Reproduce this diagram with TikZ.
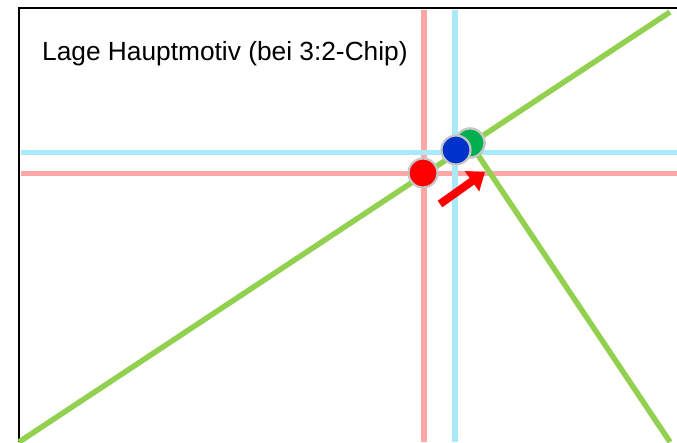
\documentclass[tikz,border=0pt]{standalone}
\usepackage{fontspec}
\setmainfont{Liberation Sans}
\usepackage{tikz}
\usetikzlibrary{arrows.meta}
\definecolor{guidered}{RGB}{255,166,166}
\definecolor{guideblue}{RGB}{170,234,248}
\definecolor{diaggreen}{RGB}{146,208,80}
\definecolor{dotred}{RGB}{255,0,0}
\definecolor{dotblue}{RGB}{0,51,204}
\definecolor{dotgreen}{RGB}{0,176,80}
\tikzset{
  guide/.style={line width=5.5pt},
  diag/.style={diaggreen,line width=5.5pt},
  dot/.style={circle,minimum size=29pt,inner sep=0pt,draw=gray!45,line width=2.2pt}
}

\begin{document}
\begin{tikzpicture}[x=1pt,y=-1pt]
\useasboundingbox (0,0) rectangle (677,442);
% ---- frame (only top and left edge visible) ----
\draw[line width=2pt] (19,442) -- (19,8) -- (677,8);
\node[anchor=base west,font=\fontsize{26.3}{31}\selectfont,inner sep=0pt] (title) at (42,60) {Lage Hauptmotiv (bei 3:2-Chip)};
% ---- guide lines ----
\draw[guide,guidered] (424,10) -- (424,442);
\draw[guide,guidered] (21,173.5) -- (677,173.5);
\draw[guide,guideblue] (455,10) -- (455,442);
\draw[guide,guideblue] (21,152.5) -- (677,152.5);
% ---- green diagonals ----
\coordinate (gl) at (19,442);
\coordinate (gr) at (670,12);
\coordinate (gb) at (670,442);
\node[dot,fill=dotgreen] (pgreen) at (470,143) {};
\draw[diag] (gl) -- (gr);
\draw[diag] (pgreen.center) -- (gb);
% ---- points ----
\node[dot,fill=dotgreen] at (pgreen) {};
\node[dot,fill=dotblue] (pblue) at (456,150) {};
\node[dot,fill=dotred] (pred) at (423,173) {};
% ---- shift arrow ----
\coordinate (atail) at (440,204);
\coordinate (ahead) at (485,172);
\draw[dotred,line width=8pt,-{Triangle[length=16pt,width=24pt]}] (atail) -- (ahead);
\end{tikzpicture}
\end{document}
